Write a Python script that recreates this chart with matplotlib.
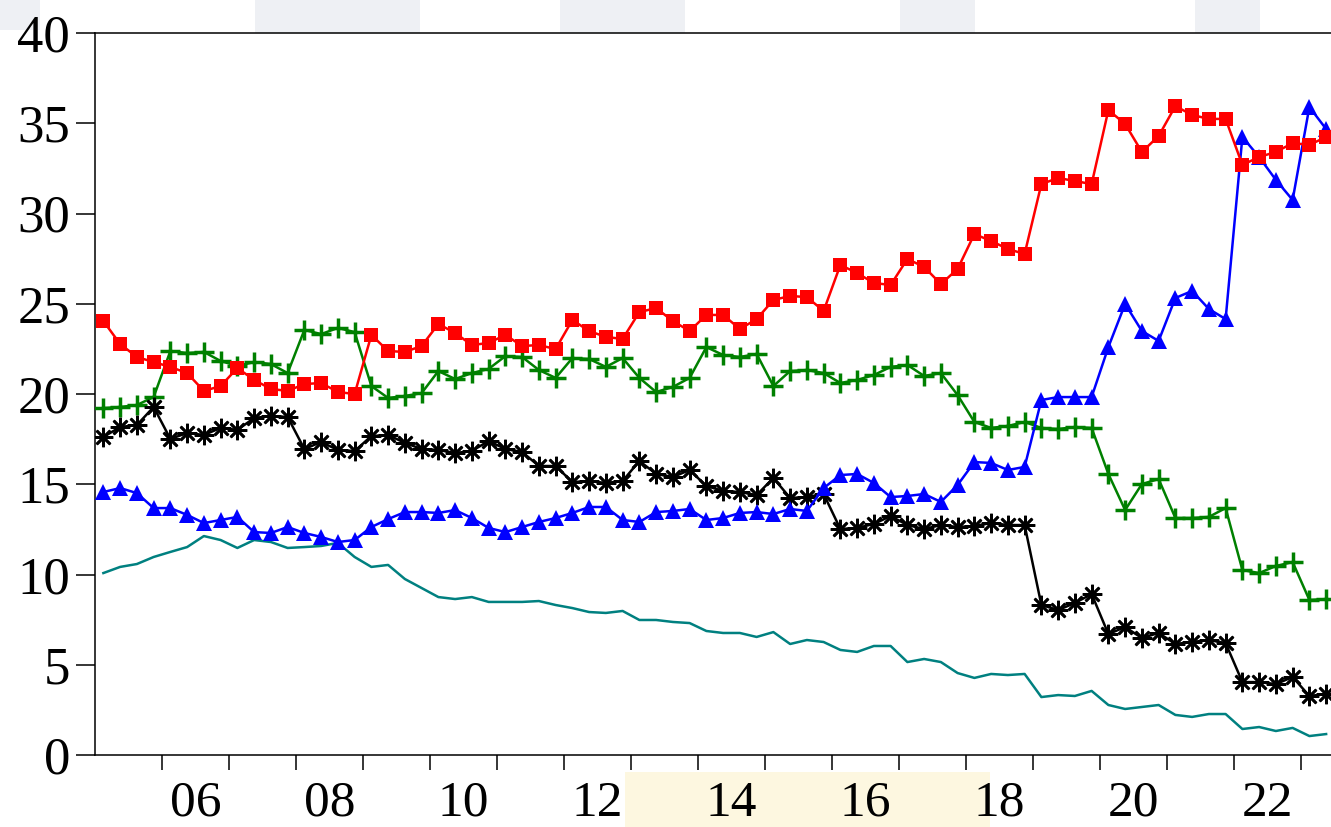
import numpy as np
import pandas as pd
import matplotlib
matplotlib.use("Agg")
import matplotlib.pyplot as plt
from matplotlib.patches import Rectangle

# Quarterly observations, 2005Q1 - 2023Q2
quarters = pd.period_range("2005Q1", "2023Q2", freq="Q")

series_red = [
    24.04, 22.77, 22.05, 21.77, 21.50, 21.16, 20.17, 20.44, 21.44, 20.78, 20.28, 20.17,
    20.55, 20.61, 20.11, 20.00, 23.27, 22.38, 22.33, 22.66, 23.88, 23.38, 22.71, 22.83,
    23.27, 22.66, 22.71, 22.49, 24.10, 23.49, 23.16, 23.05, 24.54, 24.76, 24.04, 23.49,
    24.38, 24.38, 23.60, 24.15, 25.21, 25.43, 25.37, 24.60, 27.15, 26.70, 26.15, 26.04,
    27.48, 27.04, 26.09, 26.93, 28.86, 28.48, 28.03, 27.76, 31.63, 31.97, 31.80, 31.63,
    35.73, 34.96, 33.41, 34.29, 35.95, 35.46, 35.24, 35.24, 32.69, 33.13, 33.41, 33.90,
    33.80, 34.24,
]
series_green = [
    19.22, 19.28, 19.39, 19.83, 22.38, 22.27, 22.33, 21.83, 21.55, 21.77, 21.66, 21.16,
    23.55, 23.32, 23.66, 23.43, 20.44, 19.78, 19.89, 20.05, 21.27, 20.83, 21.16, 21.39,
    22.10, 22.05, 21.33, 20.89, 21.99, 21.94, 21.50, 21.99, 20.89, 20.11, 20.39, 20.89,
    22.60, 22.16, 22.05, 22.22, 20.44, 21.27, 21.33, 21.16, 20.61, 20.78, 21.05, 21.50,
    21.61, 21.00, 21.16, 19.94, 18.45, 18.12, 18.23, 18.45, 18.12, 18.06, 18.17, 18.12,
    15.57, 13.57, 15.01, 15.29, 13.13, 13.13, 13.19, 13.68, 10.25, 10.08, 10.47, 10.69,
    8.59, 8.64,
]
series_black = [
    17.62, 18.17, 18.28, 19.28, 17.51, 17.84, 17.73, 18.12, 18.01, 18.67, 18.78, 18.73,
    16.95, 17.34, 16.90, 16.84, 17.67, 17.73, 17.29, 16.95, 16.90, 16.73, 16.84, 17.40,
    16.95, 16.79, 16.01, 16.01, 15.12, 15.18, 15.07, 15.18, 16.29, 15.57, 15.40, 15.79,
    14.90, 14.63, 14.57, 14.40, 15.35, 14.24, 14.29, 14.46, 12.52, 12.58, 12.80, 13.24,
    12.74, 12.52, 12.74, 12.63, 12.69, 12.85, 12.74, 12.74, 8.31, 8.03, 8.42, 8.92,
    6.70, 7.09, 6.48, 6.76, 6.15, 6.26, 6.37, 6.20, 4.04, 4.04, 3.93, 4.32,
    3.27, 3.38,
]
series_blue = [
    14.57, 14.79, 14.51, 13.68, 13.68, 13.30, 12.85, 13.02, 13.19, 12.35, 12.30, 12.63,
    12.30, 12.08, 11.80, 11.91, 12.63, 13.07, 13.46, 13.46, 13.41, 13.57, 13.13, 12.58,
    12.35, 12.63, 12.91, 13.13, 13.41, 13.74, 13.74, 13.02, 12.91, 13.46, 13.52, 13.63,
    13.02, 13.13, 13.41, 13.46, 13.35, 13.63, 13.52, 14.79, 15.51, 15.57, 15.07, 14.29,
    14.35, 14.46, 14.02, 14.96, 16.23, 16.18, 15.79, 15.96, 19.67, 19.83, 19.83, 19.83,
    22.60, 24.99, 23.49, 22.94, 25.32, 25.71, 24.71, 24.15, 34.24, 33.13, 31.86, 30.75,
    35.90, 34.68,
]
series_teal = [
    10.08, 10.42, 10.58, 10.97, 11.25, 11.52, 12.13, 11.91, 11.47, 11.91, 11.80, 11.47,
    11.52, 11.58, 11.75, 10.97, 10.42, 10.53, 9.75, 9.25, 8.75, 8.64, 8.75, 8.48,
    8.48, 8.48, 8.53, 8.31, 8.14, 7.92, 7.87, 7.98, 7.48, 7.48, 7.37, 7.31,
    6.87, 6.76, 6.76, 6.54, 6.81, 6.15, 6.37, 6.26, 5.82, 5.71, 6.04, 6.04,
    5.15, 5.32, 5.15, 4.54, 4.27, 4.49, 4.43, 4.49, 3.21, 3.32, 3.27, 3.55,
    2.77, 2.55, 2.66, 2.77, 2.22, 2.11, 2.27, 2.27, 1.44, 1.55, 1.33, 1.50,
    1.05, 1.16,
]

year_labels = ["06", "08", "10", "12", "14", "16", "18", "20", "22"]
y_ticks = [0, 5, 10, 15, 20, 25, 30, 35, 40]

# each quarter sits in the middle of its slot within the year
x = np.array([q.year + (q.quarter - 0.5) / 4 for q in quarters])

W, H = 1331, 827
fig = plt.figure(figsize=(W / 100, H / 100), dpi=100)
fig.patch.set_facecolor("white")

# faint background artwork in the margins
wm_gray = "#eef0f4"
wm_yellow = "#fdf7e0"
for (x0, y0, w, h, c) in [
    (255, 0, 165, 33, wm_gray), (560, 0, 125, 33, wm_gray), (900, 0, 75, 33, wm_gray),
    (1195, 0, 65, 33, wm_gray), (0, 0, 40, 30, wm_gray),
    (625, 772, 365, 55, wm_yellow),
]:
    fig.patches.append(Rectangle((x0 / W, 1 - (y0 + h) / H), w / W, h / H,
                                 transform=fig.transFigure, facecolor=c,
                                 edgecolor="none", zorder=-10))

x0_year, x1_year = 2005.0, 2023.5
px_per_year = 67.0
ax_left, ax_top, ax_bottom = 95, 33, 755
ax = fig.add_axes([ax_left / W, 1 - ax_bottom / H,
                   (x1_year - x0_year) * px_per_year / W, (ax_bottom - ax_top) / H])
ax.set_facecolor("white")

lw = 1.8
ax.plot(x, series_teal, color="#008080", lw=lw, zorder=2)
ax.plot(x, series_green, color="#008000", lw=lw, marker="+", ms=14, mew=2.5, zorder=3)
ax.plot(x, series_black, color="black", lw=lw, marker=(8, 2, 0), ms=14, mew=1.9, zorder=3)
ax.plot(x, series_blue, color="#0000ff", lw=lw, marker="^", ms=11, mew=0, zorder=4)
ax.plot(x, series_red, color="#ff0000", lw=lw, marker="s", ms=10, mew=0, zorder=5)

ax.set_xlim(x0_year, x1_year)
ax.set_ylim(0, 40)

serif = ["Liberation Serif", "DejaVu Serif"]

ax.set_yticks(y_ticks)
ax.set_yticklabels([str(v) for v in y_ticks], family=serif, fontsize=38)
ax.tick_params(axis="y", direction="out", length=14, width=1.1, pad=4, colors="black")

ax.set_xticks(np.arange(2006, 2024))
ax.set_xticklabels([])
ax.set_xticks([int("20" + s) + 0.5 for s in year_labels], minor=True)
ax.set_xticklabels(year_labels, minor=True, family=serif, fontsize=37)
ax.tick_params(axis="x", which="major", direction="out", length=11, width=1.1)
ax.tick_params(axis="x", which="minor", length=0, pad=18)

for side in ("left", "bottom", "top", "right"):
    ax.spines[side].set_linewidth(1.1)
    ax.spines[side].set_color("black")

fig.savefig("out.png", dpi=100)
